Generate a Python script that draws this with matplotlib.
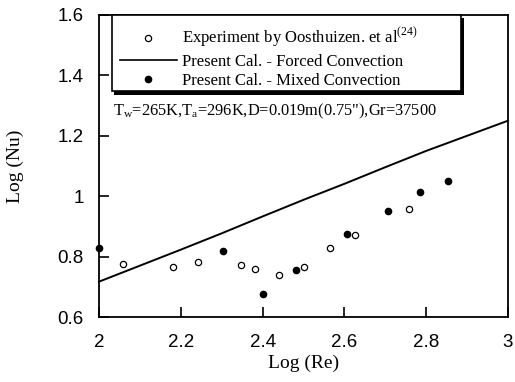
import matplotlib
matplotlib.use("Agg")
import matplotlib.pyplot as plt
from matplotlib.lines import Line2D
from matplotlib.patches import Rectangle

# Data
exp_x = [2.059, 2.182, 2.242, 2.346, 2.382, 2.441, 2.502, 2.565, 2.626, 2.757]
exp_y = [0.776, 0.764, 0.782, 0.771, 0.758, 0.738, 0.766, 0.827, 0.872, 0.959]

mixed_x = [2.0, 2.302, 2.402, 2.482, 2.607, 2.706, 2.785, 2.853]
mixed_y = [0.830, 0.819, 0.676, 0.755, 0.876, 0.951, 1.013, 1.050]

forced_x = [2.0, 2.1, 2.2, 2.3, 2.4, 2.5, 2.6, 2.7, 2.8, 2.9, 3.0]
forced_y = [0.717, 0.770, 0.823, 0.877, 0.933, 0.988, 1.041, 1.096, 1.150, 1.200, 1.250]

xticks = [2, 2.2, 2.4, 2.6, 2.8, 3]
xtick_labels = ["2", "2.2", "2.4", "2.6", "2.8", "3"]
yticks = [0.6, 0.8, 1.0, 1.2, 1.4, 1.6]
ytick_labels = ["0.6", "0.8", "1", "1.2", "1.4", "1.6"]

legend_labels = [r"Experiment by Oosthuizen. et al$^{(24)}$",
                 "Present Cal. - Forced Convection",
                 "Present Cal. - Mixed Convection"]
annot = 'T$_{\\rm w}$=265K,T$_{\\rm a}$=296K,D=0.019m(0.75"),Gr=37500'

W, H = 515, 382
plt.rcParams['mathtext.fontset'] = 'custom'
plt.rcParams['mathtext.rm'] = 'Liberation Serif'

fig = plt.figure(figsize=(W / 100, H / 100), dpi=100)
ax = fig.add_axes([99 / W, 1 - 317 / H, 409 / W, 302 / H])

ax.plot(forced_x, forced_y, color='black', lw=1.4, clip_on=False, zorder=2)
ax.plot(exp_x, exp_y, linestyle='none', marker='o', markersize=4.5,
        markerfacecolor='white', markeredgecolor='black', markeredgewidth=0.9, zorder=3)
ax.plot(mixed_x, mixed_y, linestyle='none', marker='o', markersize=4.5,
        color='black', clip_on=False, zorder=3)

ax.set_xlim(2, 3)
ax.set_ylim(0.6, 1.6)
ax.set_xticks(xticks)
ax.set_xticklabels(xtick_labels, fontfamily='Liberation Sans', fontsize=13.5)
ax.set_yticks(yticks)
ax.set_yticklabels(ytick_labels, fontfamily='Liberation Sans', fontsize=13.5)
ax.tick_params(axis='x', direction='in', length=7, width=1.2, top=False, pad=12)
ax.tick_params(axis='y', direction='in', length=7, width=1.2, right=False, pad=11)
for s in ax.spines.values():
    s.set_linewidth(1.3)

ax.set_xlabel("Log (Re)", fontfamily='Liberation Serif', fontsize=14, labelpad=3)
ax.set_ylabel("Log (Nu)", fontfamily='Liberation Serif', fontsize=14, labelpad=24)

# legend frame with drop shadow (figure pixel geometry)
def fig_rect(x0, y0, x1, y1, **kw):
    r = Rectangle((x0 / W, 1 - y1 / H), (x1 - x0) / W, (y1 - y0) / H,
                  transform=fig.transFigure, **kw)
    fig.add_artist(r)
    r.set_clip_on(False)
    return r

fig_rect(114, 18, 464, 95, facecolor='black', edgecolor='none', zorder=4)
fig_rect(112, 15, 461, 91, facecolor='white', edgecolor='black',
         linewidth=1.2, zorder=4.5)

handles = [
    Line2D([], [], linestyle='none', marker='o', markersize=4.5,
           markerfacecolor='white', markeredgecolor='black', markeredgewidth=0.9),
    Line2D([], [], color='black', lw=1.2),
    Line2D([], [], linestyle='none', marker='o', markersize=4.5, color='black'),
]
leg = fig.legend(handles, legend_labels, loc='upper left',
                 bbox_to_anchor=(120 / W, 1 - 26 / H), bbox_transform=fig.transFigure,
                 prop={'family': 'Liberation Serif', 'size': 12},
                 frameon=False,
                 handlelength=3.4, handletextpad=0.35, labelspacing=0.2,
                 borderpad=0, borderaxespad=0)
leg.set_zorder(6)

ax.text(2.034, 1.28, annot, fontfamily='Liberation Serif', fontsize=11.8,
        ha='left', va='center')

fig.savefig("out.png", dpi=100)
